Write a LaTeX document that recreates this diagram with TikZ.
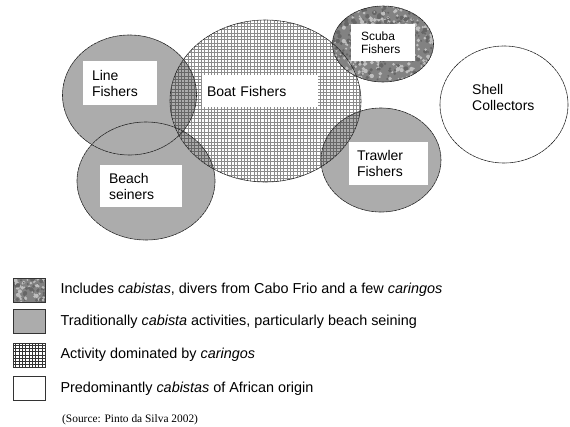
\documentclass[tikz,border=0pt]{standalone}
\usepackage{fontspec}
\setmainfont{Liberation Sans}
\newfontfamily\srcfont{Liberation Serif}
\usetikzlibrary{positioning}
\definecolor{seinegray}{RGB}{172,172,172}
\definecolor{meshgray}{RGB}{140,140,140}
\definecolor{scubagray}{RGB}{130,130,130}
\tikzset{
  outline/.style={draw=black!85, line width=0.6pt, dash pattern=on 3pt off 0.8pt},
  seine/.style={fill=seinegray},
  mesh/.style={draw=meshgray, line width=0.7pt},
  densemesh/.style={draw=black!60, line width=0.7pt},
  lblbox/.style={fill=white, align=left, inner ysep=0pt, font=\fontsize{14}{16}\selectfont},
  keybox/.style={draw=black!80, line width=0.6pt, minimum width=32pt, minimum height=24pt, inner sep=0pt},
  keytext/.style={anchor=west, inner sep=0pt, font=\fontsize{14.4}{16}\selectfont},
  lineshp/.style={x radius=67, y radius=60},
  boatshp/.style={x radius=95.5, y radius=81},
  beachshp/.style={x radius=69, y radius=59},
  scubashp/.style={x radius=50.5, y radius=38},
  trawlshp/.style={x radius=60, y radius=52},
  shellshp/.style={x radius=64, y radius=58.5},
}
% granite speckle: x0, y0, width, height, count
\newcommand{\granite}[5]{%
  \foreach \k in {1,...,#5}{%
    \pgfmathsetmacro\gx{#1+#3*rnd}\pgfmathsetmacro\gy{#2+#4*rnd}\pgfmathsetmacro\gr{0.8+1.6*rnd}%
    \fill[black!60] (\gx,\gy) circle[radius=\gr];
    \pgfmathsetmacro\gx{#1+#3*rnd}\pgfmathsetmacro\gy{#2+#4*rnd}\pgfmathsetmacro\gr{0.8+1.4*rnd}%
    \fill[black!25] (\gx,\gy) circle[radius=\gr];}}

\begin{document}
\begin{tikzpicture}[x=1pt,y=-1pt,line cap=round]
  \useasboundingbox (0,0) rectangle (570,426);
  \pgfmathsetseed{11}
  \coordinate (linec) at (129.5,95);
  \coordinate (boatc) at (265.5,101);
  \coordinate (beachc) at (146,181);
  \coordinate (scubac) at (383,44);
  \coordinate (trawlc) at (381,160);
  \coordinate (shellc) at (504,104.5);
  % ---- cabista groups ----
  \fill[seine, lineshp] (linec) ellipse;
  \fill[seine, beachshp] (beachc) ellipse;
  \fill[seine, trawlshp] (trawlc) ellipse;
  % ---- boat fishers (caringos) ----
  \begin{scope}
    \clip[boatshp] (boatc) ellipse;
    \fill[white] (170,182) rectangle (361,20);
    \draw[mesh] (168,184) grid[step=3.3pt] (363,18);
  \end{scope}
  % ---- overlaps: mesh on grey ----
  \foreach \c/\s in {linec/lineshp, beachc/beachshp, trawlc/trawlshp}{
    \begin{scope}
      \clip[boatshp] (boatc) ellipse;
      \clip[\s] (\c) ellipse;
      \fill[seinegray] (170,182) rectangle (361,20);
      \draw[densemesh] (168,184) grid[step=3.3pt] (363,18);
    \end{scope}
  }
  % ---- scuba fishers ----
  \begin{scope}
    \clip[scubashp] (scubac) ellipse;
    \fill[scubagray] (332,6) rectangle (434,82);
    \granite{330}{4}{106}{80}{300}
  \end{scope}
  % ---- outlines ----
  \draw[outline, lineshp] (linec) ellipse;
  \draw[outline, beachshp] (beachc) ellipse;
  \draw[outline, boatshp] (boatc) ellipse;
  \draw[outline, trawlshp] (trawlc) ellipse;
  \draw[outline, scubashp] (scubac) ellipse;
  \draw[outline, shellshp] (shellc) ellipse;
  % ---- labels ----
  \node[lblbox, inner xsep=9pt, text width=56pt, minimum height=44pt] (linelbl) at (120,83) {Line\\Fishers};
  \node[lblbox, inner xsep=5pt, text width=106pt, minimum height=32pt] (boatlbl) at (260,91) {Boat Fishers};
  \node[lblbox, inner xsep=9pt, text width=64pt, minimum height=42pt] (beachlbl) at (141,186) {Beach\\seiners};
  \node[lblbox, inner xsep=10pt, text width=44pt, minimum height=37pt,
        font=\fontsize{12}{13}\selectfont] (scubalbl) at (383,42.5) {Scuba\\Fishers};
  \node[lblbox, inner xsep=8pt, text width=63pt, minimum height=43pt] (trawllbl) at (388.5,163.5) {Trawler\\Fishers};
  \node[lblbox, fill=none, anchor=west, inner xsep=0pt] (shelllbl) at (472,97) {Shell\\Collectors};
  % ---- key ----
  \node[keybox, fill=scubagray, path picture={
          \granite{-17}{-13}{34}{26}{45}}] (keyscuba) at (29,290) {};
  \node[keybox, fill=seinegray] (keyseine) at (29,321.5) {};
  \node[keybox, fill=white, path picture={
          \draw[densemesh, draw=black!80, line width=0.9pt]
            (path picture bounding box.south west) grid[step=3.3pt]
            (path picture bounding box.north east);}] (keymesh) at (29,355) {};
  \node[keybox, fill=white] (keyplain) at (29,388.5) {};
  \node[keytext, right=15pt of keyscuba] (keyscubatxt) {Includes \textit{cabistas}, divers from Cabo Frio and a few \textit{caringos}};
  \node[keytext, right=15pt of keyseine] (keyseinetxt) {Traditionally \textit{cabista} activities, particularly beach seining};
  \node[keytext, right=15pt of keymesh] (keymeshtxt) {Activity dominated by \textit{caringos}};
  \node[keytext, right=15pt of keyplain] (keyplaintxt) {Predominantly \textit{cabistas} of African origin};
  \node[anchor=west, inner sep=0pt, font=\srcfont\fontsize{11.4}{13}\selectfont] (source) at (62,420) {(Source: Pinto da Silva 2002)};
\end{tikzpicture}
\end{document}
